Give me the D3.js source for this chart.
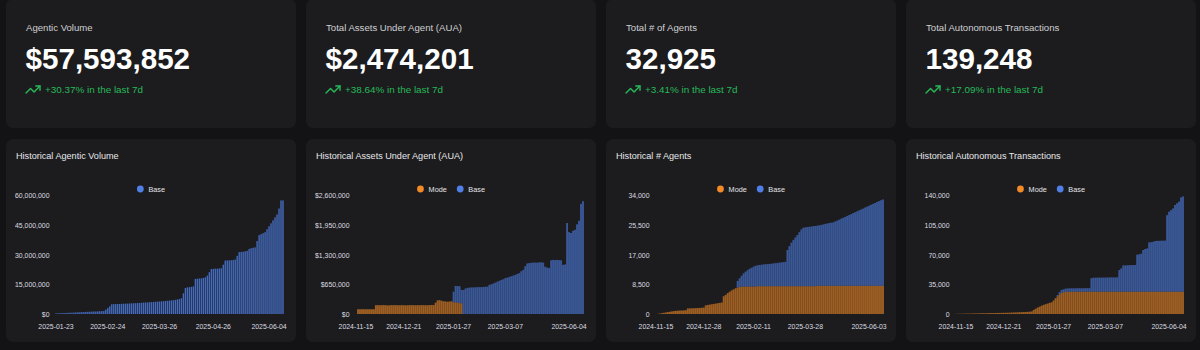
<!DOCTYPE html>
<html>
<head>
<meta charset="utf-8">
<script src="https://cdn.jsdelivr.net/npm/d3@7"></script>
<style>
  html, body { margin: 0; padding: 0; background: #131315; }
  svg { display: block; font-family: "Liberation Sans", Arial, sans-serif; }
</style>
</head>
<body>
<div id="dash"></div>
<script>
// ---- KPI cards ----
const kpiLabels = ["Agentic Volume", "Total Assets Under Agent (AUA)", "Total # of Agents", "Total Autonomous Transactions"];
const kpiValues = ["$57,593,852", "$2,474,201", "32,925", "139,248"];
const kpiChanges = ["+30.37% in the last 7d", "+38.64% in the last 7d", "+3.41% in the last 7d", "+17.09% in the last 7d"];

// ---- chart titles / tick labels ----
const chartTitles = ["Historical Agentic Volume", "Historical Assets Under Agent (AUA)", "Historical # Agents", "Historical Autonomous Transactions"];

const volumeDates = ["2025-01-23", "2025-02-24", "2025-03-26", "2025-04-26", "2025-06-04"];
const volumeDateIdx = [0, 26, 52, 79, 107];
const volumeTicks = [0, 15, 30, 45, 60];            // millions of $

const auaDates = ["2024-11-15", "2024-12-21", "2025-01-27", "2025-03-07", "2025-06-04"];
const auaDateIdx = [0, 24, 49, 75, 107];
const auaTicks = [0, 650, 1300, 1950, 2600];        // thousands of $

const agentDates = ["2024-11-15", "2024-12-28", "2025-02-11", "2025-03-28", "2025-06-03"];
const agentDateIdx = [0, 24, 49, 75, 107];
const agentTicks = [0, 8500, 17000, 25500, 34000];

const txDates = ["2024-11-15", "2024-12-21", "2025-01-27", "2025-03-07", "2025-06-04"];
const txDateIdx = [0, 24, 49, 75, 107];
const txTicks = [0, 35000, 70000, 105000, 140000];

// ---- series ----
// agentic volume, Base, millions of $
const volumeBase = [
  0.3, 0.35, 0.4, 0.45, 0.5, 0.55, 0.6, 0.65, 0.7, 0.75,
  0.8, 0.85, 0.9, 0.95, 1.0, 1.05, 1.1, 1.15, 1.2, 1.25,
  1.3, 1.35, 1.4, 1.45, 1.5, 2.2, 3.0, 3.9, 5.0, 5.0,
  5.05, 5.1, 5.1, 5.15, 5.2, 5.25, 5.3, 5.35, 5.4, 5.45,
  5.5, 5.55, 5.6, 5.7, 5.8, 5.85, 5.9, 6.0, 6.05, 6.1,
  6.2, 6.3, 6.35, 6.4, 6.5, 6.6, 6.7, 6.8, 6.9, 7.0,
  7.2, 7.4, 7.6, 8.0, 10.5, 13.2, 13.5, 13.6, 13.8, 14.0,
  17.8, 17.9, 18.0, 18.1, 18.3, 18.6, 19.5, 21.2, 22.8, 22.9,
  23.0, 23.0, 23.1, 23.2, 25.0, 27.1, 27.2, 27.2, 27.3, 27.4,
  27.6, 29.5, 31.4, 31.5, 31.6, 31.8, 32.0, 33.0, 33.4, 33.6,
  33.8, 37.0, 40.0, 40.5, 41.0, 41.5, 43.0, 44.5, 46.0, 47.5,
  49.0, 50.5, 53.5, 57.6, 57.6
];

// AUA, thousands of $
const auaMode = [
  0, 105, 105, 105, 105, 105, 105, 105, 105, 105,
  195, 195, 192, 194, 196, 193, 190, 192, 195, 194,
  196, 193, 192, 195, 194, 190, 193, 195, 196, 194,
  192, 195, 193, 196, 194, 195, 193, 196, 198, 197,
  250, 300, 305, 290, 280, 275, 270, 275, 280, 255,
  260, 250, 240, 235, 0, 0, 0, 0, 0, 0,
  0, 0, 0, 0, 0, 0, 0, 0, 0, 0,
  0, 0, 0, 0, 0, 0, 0, 0, 0, 0,
  0, 0, 0, 0, 0, 0, 0, 0, 0, 0,
  0, 0, 0, 0, 0, 0, 0, 0, 0, 0,
  0, 0, 0, 0, 0, 0, 0, 0, 0, 0,
  0, 0, 0, 0, 0
];
const auaBase = [
  0, 0, 0, 0, 0, 0, 0, 0, 0, 0,
  0, 0, 0, 0, 0, 0, 0, 0, 0, 0,
  0, 0, 0, 0, 0, 0, 0, 0, 0, 0,
  0, 0, 0, 0, 0, 0, 0, 0, 0, 0,
  0, 0, 0, 0, 0, 0, 0, 0, 0, 235,
  357, 365, 370, 295, 528, 560, 575, 580, 585, 585,
  588, 590, 590, 592, 595, 598, 600, 640, 654, 670,
  690, 710, 730, 750, 764, 790, 800, 815, 830, 845,
  860, 880, 900, 940, 970, 1050, 1110, 1120, 1125, 1130,
  1130, 1130, 1135, 1135, 1130, 1040, 1020, 1010, 1180, 1190,
  1185, 1190, 1185, 1180, 1080, 1090, 2000, 1800, 1780, 1830,
  1850, 1970, 2050, 2420, 2480
];

// number of agents
const agentMode = [
  0, 50, 150, 250, 350, 450, 550, 650, 750, 850,
  900, 950, 1000, 1000, 1050, 1100, 1600, 1620, 1640, 1660,
  1680, 1700, 1750, 1800, 1850, 2500, 2600, 2700, 2800, 2900,
  3000, 3100, 3200, 3300, 5100, 5500, 6000, 6400, 6800, 7100,
  7400, 7600, 7750, 7850, 7900, 7900, 7900, 7900, 7900, 7900,
  7900, 8000, 8000, 8000, 8000, 8000, 8000, 8000, 8000, 8000,
  8000, 8000, 8000, 8000, 8000, 8000, 8000, 8000, 8000, 8000,
  8000, 8000, 8000, 8000, 8000, 8000, 8000, 8000, 8000, 8000,
  8000, 8100, 8100, 8100, 8100, 8100, 8100, 8100, 8100, 8100,
  8100, 8100, 8100, 8100, 8100, 8100, 8100, 8100, 8100, 8100,
  8100, 8100, 8100, 8100, 8100, 8100, 8100, 8100, 8100, 8100,
  8100, 8100, 8100, 8100, 8100
];
const agentBase = [
  0, 0, 0, 0, 0, 0, 0, 0, 0, 0,
  0, 0, 0, 0, 0, 0, 0, 0, 0, 0,
  0, 0, 0, 0, 0, 0, 0, 0, 0, 0,
  0, 0, 0, 0, 0, 0, 0, 0, 0, 0,
  0, 1900, 2510, 3150, 3800, 4260, 4700, 5100, 5400, 5700,
  5980, 6000, 6100, 6150, 6250, 6300, 6350, 6400, 6450, 6550,
  6600, 6700, 6750, 6850, 6900, 7000, 10400, 11500, 12500, 13300,
  14000, 14700, 15500, 16300, 16800, 16900, 17000, 17050, 17150, 17250,
  17300, 17300, 17400, 17500, 17650, 17800, 17900, 18050, 18150, 18240,
  18500, 18750, 19000, 19300, 19550, 19800, 20100, 20350, 20600, 20900,
  21150, 21400, 21700, 21950, 22200, 22500, 22750, 23000, 23300, 23550,
  23800, 24100, 24350, 24600, 24825
];

// autonomous transactions
const txMode = [
  200, 250, 300, 350, 400, 450, 500, 550, 600, 650,
  700, 750, 800, 850, 900, 950, 1000, 1050, 1100, 1150,
  1200, 1250, 1300, 1350, 1400, 1450, 1500, 1600, 1700, 1800,
  1900, 2000, 2100, 2200, 2300, 2400, 2500, 2700, 3000, 4700,
  6200, 7600, 8600, 9800, 10800, 11600, 12300, 13200, 13800, 16000,
  18500, 21000, 23300, 25000, 25700, 26200, 26300, 26400, 26400, 26400,
  26300, 26400, 26400, 26400, 26300, 26400, 26400, 26400, 26400, 26300,
  26400, 26400, 26400, 26400, 26300, 26400, 26400, 26400, 26400, 26400,
  26300, 26400, 26400, 26400, 26400, 26300, 26400, 26400, 26400, 26400,
  26400, 26300, 26400, 26400, 26400, 26400, 26300, 26400, 26400, 26400,
  26400, 26400, 26300, 26400, 26400, 26400, 26400, 26400, 26300, 26400,
  26400, 26400, 26400, 26400, 26400
];
const txBase = [
  0, 0, 0, 0, 0, 0, 0, 0, 0, 0,
  0, 0, 0, 0, 0, 0, 0, 0, 0, 0,
  0, 0, 0, 0, 0, 0, 0, 0, 0, 0,
  0, 0, 0, 0, 0, 0, 0, 0, 0, 0,
  0, 0, 0, 0, 0, 0, 0, 0, 0, 0,
  500, 1500, 2500, 3500, 3500, 3800, 3900, 4000, 4000, 4000,
  4100, 4100, 4100, 4100, 4200, 4200, 4200, 4200, 16000, 16600,
  16600, 16700, 16700, 16700, 16800, 16800, 16800, 16900, 16900, 16900,
  17000, 17000, 25600, 27600, 31100, 31200, 31300, 31400, 31500, 31500,
  31600, 44000, 44200, 45000, 49300, 50500, 51300, 58400, 58600, 59000,
  60000, 60200, 60300, 60400, 60400, 60500, 90600, 94600, 96600, 98600,
  102600, 104600, 106600, 111600, 112850
];

const BLUE = "#4f7fe6";
const ORANGE = "#f28a26";
const GREEN = "#27b95a";
const CARD = "#1c1c1e";

const fmtComma = d3.format(",");

const charts = [
  { title: chartTitles[0], series: [{ name: "Base", values: volumeBase, color: BLUE }],
    ticks: volumeTicks, tickFmt: (d) => "$" + fmtComma(d * 1e6),
    dates: volumeDates, dateIdx: volumeDateIdx, padding: 0.3, opacity: 0.8 },
  { title: chartTitles[1], series: [{ name: "Mode", values: auaMode, color: ORANGE }, { name: "Base", values: auaBase, color: BLUE }],
    ticks: auaTicks, tickFmt: (d) => "$" + fmtComma(d * 1e3),
    dates: auaDates, dateIdx: auaDateIdx, padding: 0.05, opacity: 0.6 },
  { title: chartTitles[2], series: [{ name: "Mode", values: agentMode, color: ORANGE }, { name: "Base", values: agentBase, color: BLUE }],
    ticks: agentTicks, tickFmt: fmtComma,
    dates: agentDates, dateIdx: agentDateIdx, padding: 0.05, opacity: 0.6 },
  { title: chartTitles[3], series: [{ name: "Mode", values: txMode, color: ORANGE }, { name: "Base", values: txBase, color: BLUE }],
    ticks: txTicks, tickFmt: fmtComma,
    dates: txDates, dateIdx: txDateIdx, padding: 0.05, opacity: 0.6 }
];

const width = 1200, height = 350;
const colX = [6, 306, 606, 906];
const cardW = 290;

const svg = d3.select("#dash").append("svg")
  .attr("width", width)
  .attr("height", height);

// ---- top row: KPI cards ----
colX.forEach(function(x0, c) {
  const g = svg.append("g").attr("transform", "translate(" + x0 + ",0)");

  g.append("rect")
    .attr("y", -1).attr("width", cardW).attr("height", 129)
    .attr("rx", 7).attr("fill", CARD);

  g.append("text")
    .attr("x", 20).attr("y", 31)
    .attr("fill", "#cfcfd3")
    .style("font-size", "9.6px")
    .text(kpiLabels[c]);

  g.append("text")
    .attr("x", 19.5).attr("y", 68.5)
    .attr("fill", "#ffffff")
    .style("font-size", "29.6px")
    .style("font-weight", "bold")
    .text(kpiValues[c]);

  // trending-up icon
  const icon = g.append("g")
    .attr("transform", "translate(" + (20 - 1.4) + "," + (86 - 4.9) + ") scale(0.7)")
    .attr("fill", "none")
    .attr("stroke", GREEN)
    .attr("stroke-width", 2)
    .attr("stroke-linecap", "round")
    .attr("stroke-linejoin", "round");
  icon.append("path").attr("d", "M22 7 13.5 15.5 8.5 10.5 2 17");
  icon.append("path").attr("d", "M16 7h6v6");

  g.append("text")
    .attr("x", 39).attr("y", 92.5)
    .attr("fill", GREEN)
    .style("font-size", "9.9px")
    .text(kpiChanges[c]);
});

// ---- bottom row: stacked bar charts ----
const plotTop = 195.7, plotBottom = 314;

charts.forEach(function(ch, c) {
  const x0 = colX[c];
  const n = ch.series[0].values.length;
  ch.series.forEach((s) => {
    if (s.values.length !== n) throw new Error(ch.title + " " + s.name + " length " + s.values.length + " != " + n);
  });

  const g = svg.append("g").attr("transform", "translate(" + x0 + ",0)");

  g.append("rect")
    .attr("y", 139).attr("width", cardW).attr("height", 203)
    .attr("rx", 7).attr("fill", CARD);

  g.append("text")
    .attr("x", 10).attr("y", 158.5)
    .attr("fill", "#e8e8ea")
    .style("font-size", "9.1px")
    .text(ch.title);

  const clipId = "clip-" + c;
  g.append("clipPath").attr("id", clipId)
    .append("rect")
    .attr("x", 9).attr("y", 139).attr("width", cardW - 9).attr("height", 203);

  const plot = g.append("g").attr("clip-path", "url(#" + clipId + ")");

  const keys = ch.series.map((s) => s.name);
  const rows = d3.range(n).map(function(i) {
    const row = { i: i };
    ch.series.forEach((s) => { row[s.name] = s.values[i]; });
    return row;
  });

  const x = d3.scaleBand()
    .domain(d3.range(n))
    .range([49, 278])
    .paddingInner(ch.padding)
    .paddingOuter(ch.padding / 2);

  const y = d3.scaleLinear()
    .domain([0, ch.ticks[ch.ticks.length - 1]])
    .range([plotBottom, plotTop]);

  const stacked = d3.stack().keys(keys)(rows);

  plot.selectAll(".layer")
    .data(stacked)
    .enter()
    .append("g")
      .attr("class", "layer")
      .attr("fill", (d, k) => ch.series[k].color)
      .attr("fill-opacity", ch.opacity)
    .selectAll("rect")
    .data((d) => d.filter((p) => p[1] - p[0] > 0))
    .enter()
    .append("rect")
      .attr("x", (p) => x(p.data.i))
      .attr("width", x.bandwidth())
      .attr("y", (p) => y(p[1]))
      .attr("height", (p) => y(p[0]) - y(p[1]));

  // y axis
  const yAxis = plot.append("g")
    .attr("transform", "translate(43.5,0)")
    .call(d3.axisLeft(y).tickValues(ch.ticks).tickFormat(ch.tickFmt).tickSize(0).tickPadding(0));
  yAxis.select(".domain").remove();
  yAxis.selectAll("text")
    .attr("fill", "#dcdce0")
    .style("font-size", "6.9px")
    .style("font-family", "'Liberation Sans', Arial, sans-serif");

  // x axis
  const xAxis = plot.append("g")
    .attr("transform", "translate(0," + plotBottom + ")")
    .call(d3.axisBottom(x).tickValues(ch.dateIdx)
      .tickFormat((i) => ch.dates[ch.dateIdx.indexOf(i)])
      .tickSize(0).tickPadding(10));
  xAxis.select(".domain").remove();
  xAxis.selectAll("text")
    .attr("fill", "#dcdce0")
    .style("font-size", "6.9px")
    .style("font-family", "'Liberation Sans', Arial, sans-serif");

  // legend, centred in the card
  const legend = g.append("g");
  let cursor = 0;
  ch.series.forEach(function(s) {
    const item = legend.append("g").attr("transform", "translate(" + cursor + ",0)");
    item.append("circle")
      .attr("cx", 3.4).attr("cy", 0).attr("r", 3.4)
      .attr("fill", s.color);
    const t = item.append("text")
      .attr("x", 11.5).attr("y", 2.5)
      .attr("fill", "#e4e4e7")
      .style("font-size", "7.3px")
      .text(s.name);
    cursor += 11.5 + t.node().getComputedTextLength() + 10;
  });
  const legendW = cursor - 10;
  legend.attr("transform", "translate(" + (cardW / 2 - legendW / 2) + ",189)");
});
</script>
</body>
</html>
